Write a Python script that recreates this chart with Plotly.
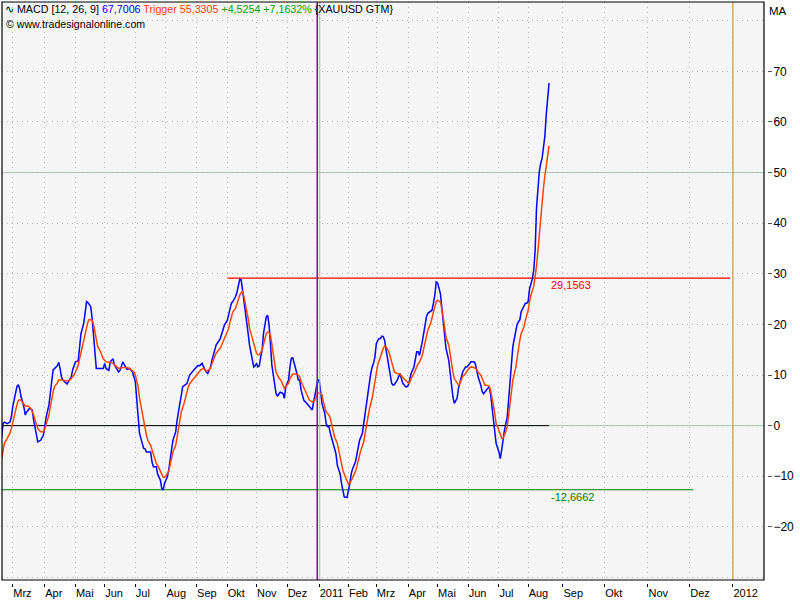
import plotly.graph_objects as go

# x axis = trading-session index (0 = first session of March 2010); future months use calendar days
MACD_SESSION = [-8, -7, -6, -4, -2, -1, 0, 2, 3, 4, 5, 6, 8, 9, 10, 12, 14, 15, 16, 18, 20, 22, 23, 24, 26, 27, 28, 29,
                32, 33, 34, 35, 36, 39, 40, 42, 43, 45, 47, 48, 49, 51, 52, 53, 54, 56, 57, 58, 59, 60, 63, 65, 66, 67,
                69, 70, 72, 73, 76, 77, 79, 81, 82, 84, 86, 88, 89, 90, 91, 93, 94, 95, 96, 99, 100, 101, 103, 104, 106,
                107, 108, 109, 111, 112, 113, 114, 115, 117, 118, 119, 120, 121, 122, 125, 127, 130, 132, 133, 134, 136,
                137, 138, 139, 140, 142, 143, 144, 146, 149, 150, 152, 154, 155, 157, 158, 160, 161, 162, 163, 164, 165,
                166, 167, 168, 169, 170, 172, 173, 174, 175, 176, 177, 178, 179, 180, 181, 182, 183, 184, 185, 186, 188,
                189, 190, 192, 194, 195, 196, 198, 199, 200, 201, 203, 204, 205, 206, 207, 209, 211, 213, 215, 216, 217,
                218, 219, 220, 221, 222, 224, 225, 226, 227, 228, 230, 231, 232, 233, 235, 236, 237, 238, 240, 241, 242,
                243, 244, 246, 247, 248, 249, 251, 252, 253, 254, 255, 256, 257, 258, 259, 260, 261, 262, 263, 264, 265,
                266, 267, 268, 269, 270, 271, 272, 273, 274, 276, 277, 278, 279, 280, 282, 283, 284, 285, 286, 288, 289,
                290, 291, 292, 294, 295, 296, 297, 298, 300, 301, 302, 303, 304, 305, 307, 308, 309, 310, 311, 313, 314,
                315, 316, 317, 319, 320, 321, 322, 323, 325, 326, 327, 328, 329, 331, 332, 333, 334, 336, 337, 338, 339,
                340, 341, 342, 343, 344, 345, 346, 347, 349, 350, 351, 352, 353, 355, 356, 357, 358, 359, 361, 362, 363,
                364, 365, 367, 368, 369, 370, 371, 372, 373, 374, 375, 376, 377, 378, 379, 380, 381, 382, 383, 384, 385]
MACD_VALUE = [-2.5, 0.4, 0.7, 0.4, 0.7, 1.7, 3.7, 6.0, 7.7, 8.1, 7.3, 5.7, 3.7, 2.1, 2.7, 3.4, 3.1, 1.1, -0.6, -3.2,
              -2.9, -1.9, -0.2, 1.7, 4.1, 6.7, 9.6, 11.0, 11.8, 12.5, 11.3, 9.6, 9.0, 8.2, 8.7, 9.6, 11.0, 12.6, 12.8,
              15.6, 18.2, 20.2, 22.8, 24.5, 24.3, 23.5, 21.2, 17.5, 13.6, 11.3, 11.3, 11.3, 12.3, 11.3, 10.9, 12.6,
              13.2, 12.0, 10.6, 10.9, 12.6, 11.5, 11.1, 11.3, 10.6, 8.7, 5.0, 2.4, -1.5, -3.5, -4.5, -4.6, -5.2, -5.2,
              -7.2, -8.1, -8.1, -9.5, -10.8, -12.4, -12.7, -11.4, -10.1, -8.8, -7.2, -4.8, -2.9, -1.2, 1.1, 3.1, 4.4,
              6.0, 7.7, 8.3, 10.0, 11.0, 11.6, 11.9, 11.8, 12.3, 11.6, 11.0, 10.6, 10.3, 11.6, 12.9, 13.9, 15.9, 17.2,
              18.2, 19.9, 20.8, 21.8, 24.2, 24.5, 25.5, 26.4, 27.8, 28.9, 28.8, 26.8, 25.1, 22.8, 20.8, 18.2, 15.9,
              12.9, 11.6, 11.8, 12.3, 11.6, 11.8, 13.6, 14.9, 18.2, 19.9, 21.5, 21.8, 19.9, 16.2, 12.0, 8.3, 6.4, 5.8,
              6.6, 6.4, 5.4, 7.7, 9.0, 11.6, 13.3, 13.4, 11.6, 10.3, 9.0, 9.0, 7.0, 5.0, 4.4, 3.7, 3.1, 4.7, 6.0, 7.7,
              9.0, 9.0, 6.4, 4.4, 2.4, 0.4, -0.2, -0.2, -1.5, -3.5, -4.8, -5.5, -7.8, -9.5, -11.4, -12.7, -14.1,
              -14.2, -13.0, -11.4, -9.5, -8.5, -7.2, -5.8, -4.5, -2.9, -1.5, 0.4, 2.4, 4.4, 7.0, 8.8, 10.3, 11.6,
              12.3, 13.6, 16.2, 16.8, 17.2, 17.2, 17.7, 17.6, 16.8, 15.0, 13.3, 12.3, 9.7, 8.4, 8.0, 8.1, 9.0, 9.7,
              10.3, 9.3, 8.4, 7.7, 7.7, 8.0, 9.0, 10.3, 11.6, 12.9, 14.6, 14.6, 13.9, 16.6, 18.5, 20.2, 21.5, 22.2,
              22.5, 22.8, 24.2, 25.8, 28.4, 28.2, 26.1, 23.5, 20.2, 17.5, 15.3, 12.9, 10.3, 8.0, 5.7, 4.4, 5.4, 7.4,
              8.7, 9.7, 10.6, 11.6, 11.6, 11.9, 12.3, 12.6, 12.6, 12.3, 11.0, 9.7, 8.0, 6.7, 6.3, 6.6, 7.0, 7.2, 7.7,
              6.3, 3.7, 0.4, -1.5, -3.5, -5.2, -6.5, -4.8, -2.5, -0.9, 1.7, 5.7, 9.7, 12.9, 15.6, 18.5, 19.9, 20.5,
              20.9, 22.5, 23.5, 24.2, 24.2, 24.5, 27.0, 28.0, 29.0, 30.7, 34.5, 43.0, 47.5, 50.2, 51.8, 52.8, 55.0,
              57.2, 61.5, 64.5, 67.7006]

TRIGGER_SESSION = [-8, -7, -6, -4, -2, -1, 0, 2, 3, 4, 5, 6, 8, 9, 11, 13, 15, 16, 17, 18, 20, 22, 23, 24, 26, 27, 28,
                   29, 30, 32, 33, 35, 39, 41, 42, 44, 45, 46, 47, 48, 50, 51, 52, 53, 54, 55, 57, 58, 59, 60, 61, 63,
                   64, 65, 66, 67, 70, 72, 73, 75, 76, 79, 82, 84, 85, 87, 88, 89, 90, 91, 93, 94, 95, 96, 97, 99, 100,
                   101, 102, 103, 105, 106, 107, 108, 109, 110, 112, 113, 114, 115, 117, 118, 119, 120, 121, 123, 124,
                   125, 126, 127, 130, 132, 135, 137, 138, 139, 140, 142, 143, 144, 145, 146, 149, 151, 152, 153, 155,
                   156, 157, 158, 160, 161, 162, 163, 164, 165, 166, 167, 168, 169, 170, 172, 173, 174, 175, 176, 177,
                   179, 180, 181, 182, 183, 184, 185, 186, 187, 188, 189, 191, 192, 193, 194, 195, 196, 198, 199, 200,
                   201, 204, 205, 206, 207, 209, 210, 211, 212, 213, 215, 216, 217, 218, 219, 220, 222, 223, 224, 225,
                   227, 228, 229, 230, 231, 233, 234, 235, 236, 237, 239, 240, 241, 242, 243, 244, 246, 247, 248, 249,
                   250, 252, 253, 254, 255, 256, 258, 259, 260, 261, 262, 264, 265, 266, 267, 268, 270, 271, 272, 273,
                   274, 276, 277, 278, 279, 280, 282, 283, 284, 285, 286, 288, 289, 290, 291, 292, 294, 295, 296, 297,
                   298, 300, 301, 302, 303, 304, 305, 307, 308, 309, 310, 311, 313, 314, 315, 316, 317, 319, 320, 321,
                   322, 323, 325, 326, 327, 328, 329, 331, 332, 333, 334, 336, 337, 338, 339, 340, 342, 343, 344, 345,
                   346, 347, 349, 350, 351, 352, 353, 355, 356, 357, 358, 359, 361, 362, 363, 364, 365, 367, 368, 369,
                   370, 371, 372, 374, 375, 376, 377, 378, 379, 380, 381, 382, 383, 384, 385]
TRIGGER_VALUE = [-6.5, -4.8, -3.5, -2.5, -1.5, -0.6, 0.7, 2.7, 4.1, 5.0, 5.1, 5.0, 4.4, 3.9, 3.9, 3.4, 2.1, 1.1, 0.2,
                 -0.6, -1.2, -1.2, -0.6, 0.4, 2.1, 3.7, 5.4, 6.7, 7.7, 8.4, 9.0, 9.0, 8.8, 9.0, 9.3, 10.0, 10.6, 11.3,
                 11.9, 13.2, 15.5, 16.6, 18.2, 19.5, 20.5, 21.0, 20.8, 20.0, 18.2, 16.9, 15.6, 14.6, 13.7, 13.2, 12.9,
                 12.6, 12.5, 12.3, 12.0, 11.6, 11.3, 11.5, 11.5, 11.3, 11.0, 10.6, 10.0, 9.0, 7.7, 5.5, 2.4, 0.4, -0.9,
                 -1.9, -2.9, -3.9, -4.8, -5.8, -6.8, -7.4, -8.4, -9.0, -9.7, -10.2, -10.2, -9.9, -9.0, -7.8, -6.5,
                 -5.2, -3.9, -2.2, -0.6, 1.1, 2.7, 4.4, 5.7, 6.6, 7.6, 8.3, 9.3, 10.0, 11.0, 11.3, 11.1, 10.8, 10.9,
                 11.3, 12.3, 12.9, 13.4, 14.3, 15.3, 16.6, 17.5, 18.0, 19.2, 20.5, 21.5, 22.5, 23.2, 24.2, 24.8, 25.8,
                 26.3, 26.5, 25.5, 24.2, 22.8, 21.2, 19.2, 17.0, 15.9, 14.9, 14.3, 14.0, 14.0, 14.9, 16.2, 17.5, 18.2,
                 18.5, 18.4, 17.9, 16.2, 14.3, 12.3, 10.6, 9.5, 9.1, 8.7, 8.0, 7.4, 7.7, 8.4, 9.3, 9.8, 10.2, 10.2,
                 10.0, 9.7, 8.7, 7.4, 6.8, 6.1, 5.5, 5.0, 4.7, 4.7, 5.2, 5.8, 6.4, 6.5, 6.1, 4.7, 3.7, 2.7, 2.1, 1.4,
                 0.1, -0.9, -2.2, -3.5, -4.8, -6.1, -7.4, -8.8, -10.3, -11.1, -11.6, -11.4, -10.8, -10.1, -9.1, -8.1,
                 -7.2, -5.8, -4.8, -3.2, -1.5, 0.1, 1.7, 3.2, 5.4, 7.0, 8.7, 10.6, 12.0, 13.6, 14.6, 15.3, 15.7, 15.6,
                 14.6, 13.6, 12.6, 11.3, 10.6, 10.3, 10.2, 10.2, 9.8, 9.5, 9.0, 8.7, 8.4, 8.5, 9.3, 10.3, 11.1, 11.6,
                 12.2, 12.5, 13.9, 15.3, 16.6, 17.9, 18.9, 20.2, 21.5, 22.5, 23.5, 24.5, 24.8, 24.5, 23.2, 21.5, 19.5,
                 17.5, 15.9, 13.9, 12.3, 10.6, 9.3, 8.3, 8.0, 8.3, 9.0, 9.7, 10.3, 10.8, 11.1, 11.4, 11.6, 11.5, 11.3,
                 11.1, 10.6, 10.0, 9.3, 8.7, 8.0, 8.0, 7.8, 7.0, 5.7, 4.1, 2.4, 0.4, -0.9, -1.9, -2.5, -2.5, -1.9,
                 -0.2, 2.1, 4.4, 6.7, 9.0, 11.3, 13.3, 15.3, 16.9, 18.2, 19.5, 20.8, 21.8, 22.8, 24.5, 25.8, 27.5,
                 29.2, 31.5, 34.5, 38.0, 41.5, 44.5, 47.0, 49.3, 51.3, 53.3, 55.3305]

MONTH_TICK_SESSION = [0, 23, 45, 66, 88, 110, 132, 154, 175, 197, 220, 241, 261, 284, 305, 327, 349, 370,
                      395, 425, 456, 486, 517]
MONTH_TICK_LABEL = ['Mrz', 'Apr', 'Mai', 'Jun', 'Jul', 'Aug', 'Sep', 'Okt', 'Nov', 'Dez', '2011', 'Feb', 'Mrz',
                    'Apr', 'Mai', 'Jun', 'Jul', 'Aug', 'Sep', 'Okt', 'Nov', 'Dez', '2012']
Y_TICKS = [-20, -10, 0, 10, 20, 30, 40, 50, 60, 70]

RESISTANCE_LEVEL = 29.1563
RESISTANCE_FROM, RESISTANCE_TO = 154.3, 515.0
SUPPORT_LEVEL = -12.6662
SUPPORT_FROM, SUPPORT_TO = -7.7, 488.6
CURSOR_SESSION = 218.6
YEAR_2011_SESSION = 220
YEAR_2012_SESSION = 517
REF_LEVELS = [0, 50]
CHANGE_ABS = 4.5254
CHANGE_PCT = 7.1632


def de(v, nd=4):
    return f"{v:.{nd}f}".replace('.', ',')


FONT = "Liberation Sans, Arial, sans-serif"

fig = go.Figure()

# zero line (black) over the data span
fig.add_trace(go.Scatter(x=[MACD_SESSION[0] + 0.3, MACD_SESSION[-1]], y=[0, 0], mode='lines',
                         line=dict(color='#000000', width=1), hoverinfo='skip'))
fig.add_trace(go.Scatter(x=[SUPPORT_FROM, SUPPORT_TO], y=[SUPPORT_LEVEL] * 2, mode='lines',
                         line=dict(color='#007a00', width=1.2), hoverinfo='skip'))
fig.add_trace(go.Scatter(x=[RESISTANCE_FROM, RESISTANCE_TO], y=[RESISTANCE_LEVEL] * 2, mode='lines',
                         line=dict(color='#ff0000', width=1.2), hoverinfo='skip'))
fig.add_trace(go.Scatter(x=MACD_SESSION, y=MACD_VALUE, mode='lines', name='MACD',
                         line=dict(color='#0000ff', width=1.5)))
fig.add_trace(go.Scatter(x=TRIGGER_SESSION, y=TRIGGER_VALUE, mode='lines', name='Trigger',
                         line=dict(color='#ff4500', width=1.5)))

shapes = []
for lv in REF_LEVELS:
    shapes.append(dict(type='line', xref='x domain', x0=0, x1=1, yref='y', y0=lv, y1=lv,
                       line=dict(color='#a8c8a8', width=1), layer='below'))
shapes.append(dict(type='line', xref='x', x0=CURSOR_SESSION, x1=CURSOR_SESSION, yref='y domain', y0=0, y1=1,
                   line=dict(color='#7a1f8a', width=1.6)))
shapes.append(dict(type='line', xref='x', x0=YEAR_2011_SESSION + 0.4, x1=YEAR_2011_SESSION + 0.4, yref='y domain',
                   y0=0, y1=1, line=dict(color='#b8b8b8', width=1)))
shapes.append(dict(type='line', xref='x', x0=YEAR_2012_SESSION, x1=YEAR_2012_SESSION, yref='y domain', y0=0, y1=1,
                   line=dict(color='#d4a040', width=1.3)))
shapes.append(dict(type='rect', xref='x domain', yref='y domain', x0=0, x1=1, y0=0, y1=1,
                   line=dict(color='#000000', width=1.2), layer='above'))

title_html = ("∿ MACD [12, 26, 9] "
              f"<span style='color:#0000ff'>{de(MACD_VALUE[-1])}</span> "
              f"<span style='color:#ff4000'>Trigger {de(TRIGGER_VALUE[-1])}</span> "
              f"<span style='color:#00a000'>+{de(CHANGE_ABS)} +{de(CHANGE_PCT)}%</span> "
              "{XAUUSD GTM}")

annotations = [
    dict(text=title_html, xref='paper', yref='paper', x=0, y=1, xanchor='left', yanchor='top',
         xshift=1, yshift=1, showarrow=False, font=dict(family=FONT, size=10.7, color='#000000')),
    dict(text="© www.tradesignalonline.com", xref='paper', yref='paper', x=0, y=1, xanchor='left',
         yanchor='top', xshift=2, yshift=-14, showarrow=False, font=dict(family=FONT, size=10.6, color='#000000')),
    dict(text="MA", xref='paper', yref='paper', x=1, y=1, xanchor='left', yanchor='top', xshift=0, yshift=-1,
         showarrow=False, font=dict(family=FONT, size=11.5, color='#000000')),
    dict(text=de(RESISTANCE_LEVEL), xref='x', yref='y', x=MACD_SESSION[-1], y=RESISTANCE_LEVEL,
         xanchor='left', yanchor='top', yshift=1, showarrow=False,
         font=dict(family=FONT, size=11, color='#ff0000')),
    dict(text=de(SUPPORT_LEVEL), xref='x', yref='y', x=MACD_SESSION[-1], y=SUPPORT_LEVEL,
         xanchor='left', yanchor='top', yshift=1, showarrow=False,
         font=dict(family=FONT, size=11, color='#007a00')),
]

fig.update_layout(
    width=800, height=600,
    margin=dict(l=2, r=33, t=2, b=17, pad=0, autoexpand=False),
    paper_bgcolor='#ffffff', plot_bgcolor='#f5f5f5',
    showlegend=False, hovermode=False,
    shapes=shapes, annotations=annotations,
    xaxis=dict(domain=[0, 762 / 765], range=[-7.7, 539.3], anchor='free', position=0,
               tickmode='array', tickvals=MONTH_TICK_SESSION, ticktext=MONTH_TICK_LABEL,
               ticks='outside', ticklen=3, tickcolor='#000000', tickwidth=1, tickangle=0,
               ticklabelposition='outside right', automargin=False,
               tickfont=dict(family=FONT, size=11, color='#000000'),
               showgrid=True, gridcolor='#a8c8a8', griddash='1px,4px', gridwidth=1,
               showline=False, zeroline=False),
    yaxis=dict(domain=[3 / 581, 1], range=[-30.5, 83.7], anchor='free', position=1, side='right',
               tickmode='array', tickvals=Y_TICKS, ticks='outside', ticklen=4, tickcolor='#555555',
               ticklabelstandoff=-1, automargin=False,
               tickfont=dict(family=FONT, size=12, color='#000000'),
               showgrid=True, gridcolor='#b4b4b4', griddash='1px,4px', gridwidth=1,
               minor=dict(tickmode='linear', tick0=0, dtick=10, showgrid=True, gridcolor='#b4b4b4',
                          griddash='1px,4px', ticks=''),
               showline=False, zeroline=False),
)

fig.write_html("out.html", config={'displayModeBar': False, 'staticPlot': True},
               post_script="document.body.style.margin='0px';document.body.style.padding='0px';"
                           "document.body.style.overflow='hidden';")
